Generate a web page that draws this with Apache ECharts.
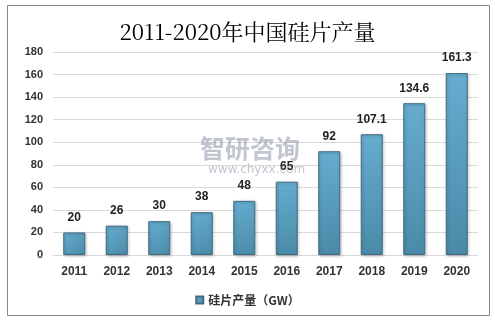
<!DOCTYPE html>
<html><head><meta charset="utf-8">
<script src="https://cdn.jsdelivr.net/npm/echarts@6/dist/echarts.min.js"></script>
<style>html,body{margin:0;padding:0;background:#fff}#c{width:495px;height:321px}</style>
</head><body><div id="c"></div>
<script>
const categories = ['2011','2012','2013','2014','2015','2016','2017','2018','2019','2020'];
const values = [20, 26, 30, 38, 48, 65, 92, 107.1, 134.6, 161.3];
const yTicks = [0, 20, 40, 60, 80, 100, 120, 140, 160, 180];
const seriesName = '硅片产量（GW）';
const titleText = '2011-2020年中国硅片产量';

const chart = echarts.init(document.getElementById('c'), null, {renderer:'canvas'});
chart.setOption({
  animation: false,
  backgroundColor: '#fff',
  graphic: [
    {type:'rect', left:5, top:3, shape:{width:482, height:310}, style:{fill:'none', stroke:'#888', lineWidth:1}, z:-1},
    {type:'text', left:200, top:136, style:{text:'智研咨询', font:'bold 25px "Noto Sans CJK SC"', fill:'rgba(130,140,160,0.5)'}, z:100},
    {type:'text', left:208, top:164, style:{text:'www.chyxx.com', font:'12px "DejaVu Sans"', fill:'rgba(130,140,160,0.5)'}, z:100}
  ],
  title: {
    text: titleText, left: 'center', top: 16,
    textStyle: {fontFamily:'"Noto Serif CJK SC","DejaVu Serif",serif', fontSize:22, fontWeight:'normal', color:'#000'}
  },
  legend: {
    bottom: 10, left: 'center', itemWidth: 7, itemHeight: 7, icon: 'rect',
    textStyle: {fontFamily:'"Noto Sans CJK SC"', fontSize:12, fontWeight:'bold', color:'#333'},
    data: [seriesName]
  },
  grid: {left: 53, right: 17, top: 52, bottom: 66},
  xAxis: {
    type: 'category', data: categories,
    axisLine: {show:true, lineStyle:{color:'#d9d9d9'}},
    axisTick: {show:false},
    axisLabel: {color:'#333', fontWeight:'bold', fontSize:12, fontFamily:'"Liberation Sans",Arial', margin:11}
  },
  yAxis: {
    type: 'value', min: yTicks[0], max: yTicks[yTicks.length-1], interval: 20,
    axisLine: {show:false}, axisTick: {show:false},
    splitLine: {lineStyle:{color:'#d9d9d9'}},
    axisLabel: {color:'#333', fontWeight:'bold', fontSize:11, fontFamily:'"Liberation Sans",Arial', margin:10}
  },
  series: [{
    name: seriesName, type: 'bar', data: values, barWidth: 22,
    itemStyle: {
      color: new echarts.graphic.LinearGradient(0,0,1,1,[{offset:0,color:'#66add0'},{offset:1,color:'#4a8aa8'}]),
      borderColor: '#3f6c82', borderWidth: 1,
      shadowColor: 'rgba(0,0,0,0.25)', shadowBlur: 3, shadowOffsetX: 1, shadowOffsetY: 1
    },
    label: {show:true, position:'top', distance:9, color:'#222', fontWeight:'bold', fontSize:12, fontFamily:'"Liberation Sans",Arial'}
  }]
});
</script></body></html>
